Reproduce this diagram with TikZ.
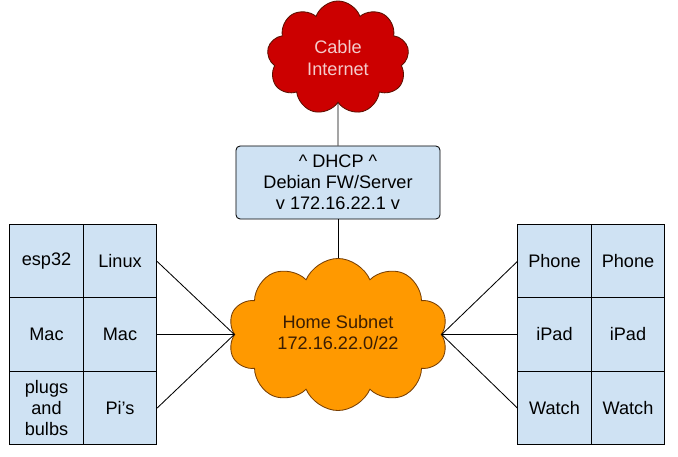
\documentclass[tikz,border=0pt]{standalone}
\usepackage{fontspec}
\setmainfont{Liberation Sans}
\usetikzlibrary{shapes.symbols}
\definecolor{cellblue}{HTML}{CFE2F3}
\definecolor{cloudred}{HTML}{CC0000}
\definecolor{cloudredline}{HTML}{5B0F00}
\definecolor{redtext}{HTML}{F4CCCC}
\definecolor{cloudorange}{HTML}{FF9900}
\definecolor{cloudorangeline}{HTML}{783F04}
\definecolor{orangetext}{HTML}{3A1D03}

\begin{document}
\begin{tikzpicture}[x=0.025cm, y=-0.025cm, line width=0.6pt, font=\fontsize{12.9}{15}\selectfont]
	\tikzstyle{cell} = [rectangle, draw=black, fill=cellblue, minimum width=1.8375cm, minimum height=1.8375cm, inner sep=0pt, align=center]
	\tikzstyle{puff} = [cloud, cloud ignores aspect, draw, align=center, inner sep=0pt]

	\useasboundingbox (0,0) rectangle (678,457);

	\node[puff, cloud puffs=9, cloud puff arc=140, fill=cloudred, draw=cloudredline, text=redtext, minimum width=3.55cm, minimum height=2.85cm] (inet) at (338,58) {Cable\\Internet};
	\node[rectangle, rounded corners=3pt, draw=black, fill=cellblue, minimum width=5.1cm, minimum height=1.825cm, align=center] (fw) at (338,182.5) {\textasciicircum{} DHCP \textasciicircum\\Debian FW/Server\\v 172.16.22.1 v};
	\node[puff, cloud puffs=10, cloud puff arc=135, fill=cloudorange, draw=cloudorangeline, text=orangetext, minimum width=5.5cm, minimum height=3.8cm] (subnet) at (338,334.5) {\raisebox{2pt}{\begin{tabular}{@{}c@{}}Home Subnet\\172.16.22.0/22\end{tabular}}};

	\foreach \name/\txt/\x/\y in {esp/esp32/46.5/261.5, linux/Linux/120/261.5, maca/Mac/46.5/334.5, macb/Mac/120/334.5, plugs/plugs\\and\\bulbs/46.5/408, pis/Pi's/120/408, phonea/Phone/554.5/261.5, phoneb/Phone/628/261.5, ipada/iPad/554.5/334.5, ipadb/iPad/628/334.5, watcha/Watch/554.5/408, watchb/Watch/628/408}
		\node[cell] (\name) at (\x, \y) {\txt};

	\foreach \from in {linux, macb, pis}
		\draw (\from.east) -- (subnet.west);

	\foreach \to in {phonea, ipada, watcha}
		\draw (subnet.east) -- (\to.west);

	\draw (inet) -- (fw);
	\draw (fw) -- (subnet);
\end{tikzpicture}
\end{document}
